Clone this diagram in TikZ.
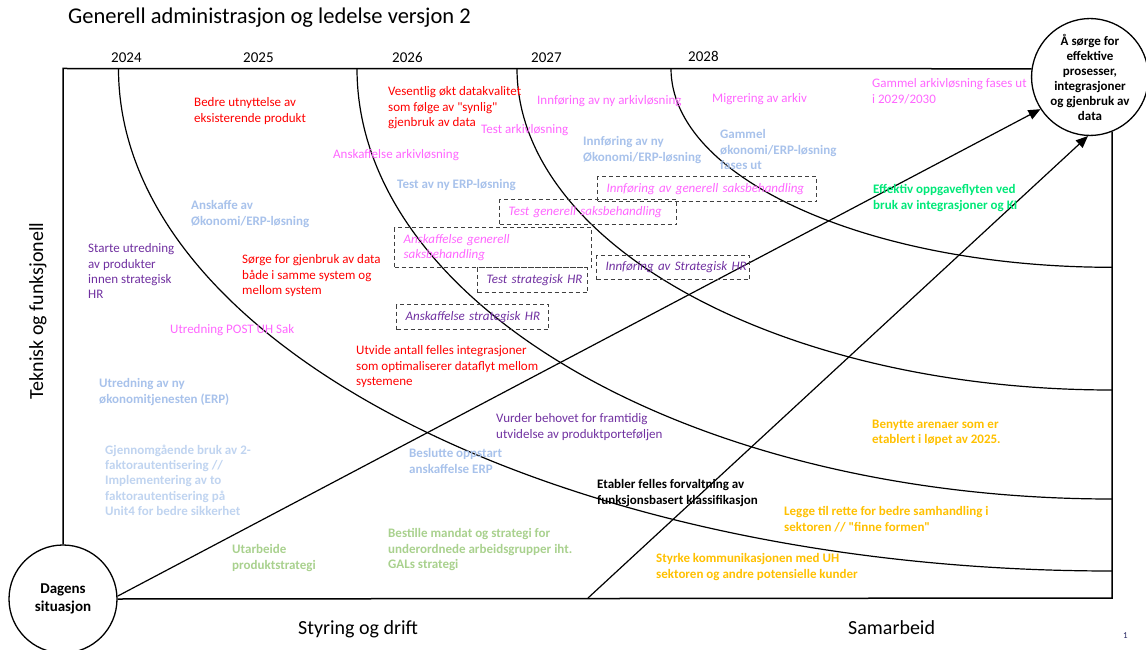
\documentclass[tikz,border=0pt]{standalone}
\usepackage{fontspec}
\setmainfont{Carlito}
\newfontfamily\qfont{Carlito}
\usetikzlibrary{arrows.meta}
\definecolor{cred}{RGB}{255,0,0}
\definecolor{cmag}{RGB}{255,102,255}
\definecolor{cblue}{RGB}{168,194,235}
\definecolor{cblue2}{RGB}{192,212,240}
\definecolor{cpurp}{RGB}{112,48,160}
\definecolor{cgreen}{RGB}{0,232,120}
\definecolor{clgreen}{RGB}{169,209,142}
\definecolor{corange}{RGB}{255,192,0}
\definecolor{cnavy}{RGB}{40,40,100}
\definecolor{cdash}{RGB}{64,64,64}
\newcommand{\sq}{{\qfont\symbol{34}}}
\begin{document}
\begin{tikzpicture}[x=1pt,y=-1pt,
  frame/.style={line width=1.5pt, black},
  arcline/.style={line width=1.2pt, black},
  arr/.style={line width=1.2pt, black, -{Triangle[length=12pt,width=10pt]}},
  tx/.style={anchor=north west, inner sep=0pt, yshift=-2.5pt, align=left, font=\fontsize{13}{15.3}\selectfont, execute at begin node=\strut},
  bx/.style={tx, font=\fontsize{13}{15.3}\selectfont\bfseries},
  dbox/.style={draw=cdash, dash pattern=on 4pt off 3pt, line width=1.1pt, anchor=north west, align=left, inner xsep=9pt, inner ysep=0pt, font=\fontsize{13}{15.3}\selectfont\itshape},
  yr/.style={anchor=base west, inner sep=0pt, font=\fontsize{15}{18}\selectfont},
  axl/.style={anchor=base west, inner sep=0pt, font=\fontsize{20}{24}\selectfont},
  ]
\path[use as bounding box] (0,0) rectangle (1146,650);

% circles
\node[circle, draw, line width=1.3pt, fill=white, minimum size=108pt, inner sep=0pt, align=center, font=\fontsize{15}{18}\selectfont\bfseries] (dagens) at (63,599) {Dagens\\situasjon};
\node[circle, draw, line width=1.3pt, fill=white, minimum size=116pt, inner sep=0pt, align=center, font=\fontsize{13}{15}\selectfont\bfseries] (goal) at (1090,77) {Å sørge for\\effektive\\prosesser,\\integrasjoner\\og gjenbruk av\\data};

% frame
\coordinate (tl) at (63,68.5);
\coordinate (br) at (1112,598);
\draw[frame] (dagens.north) -- (tl) -- (goal.172);
\draw[frame] (dagens.east) -- (br) -- (goal.292);

% arcs
\coordinate (a1s) at (118.5,68.5); \coordinate (a1e) at (1112,571);
\coordinate (a2s) at (357,68.5);   \coordinate (a2e) at (1112,499);
\coordinate (a3s) at (517,68.5);   \coordinate (a3e) at (1112,390);
\coordinate (a4s) at (671,68.5);   \coordinate (a4e) at (1112,267.3);
\draw[arcline] (a1s) .. controls +(0,277.5) and +(-548.7,0) .. (a1e);
\draw[arcline] (a2s) .. controls +(0,237.8) and +(-417,0) .. (a2e);
\draw[arcline] (a3s) .. controls +(0,177.6) and +(-328.6,0) .. (a3e);
\draw[arcline] (a4s) .. controls +(0,109.8) and +(-243.6,0) .. (a4e);

% arrows
\coordinate (s2) at (588,598);
\draw[arr] (dagens.3) -- (goal.213);
\draw[arr] (s2) -- (goal.268);

% title, years, axes
\node[anchor=base west, inner sep=0pt, font=\fontsize{22.5}{27}\selectfont] (title) at (68,24) {Generell administrasjon og ledelse versjon 2};
\node[yr] (y24) at (111,63) {2024};
\node[yr] (y25) at (243,63) {2025};
\node[yr] (y26) at (392,63) {2026};
\node[yr] (y27) at (531,63) {2027};
\node[yr] (y28) at (688,62) {2028};
\node[axl] (xl1) at (298,634) {Styring og drift};
\node[axl] (xl2) at (848,634) {Samarbeid};
\node[rotate=90, inner sep=0pt, font=\fontsize{20}{24}\selectfont] (ylab) at (38,311) {Teknisk og funksjonell};
\node[anchor=base west, inner sep=0pt, font=\fontsize{9}{11}\selectfont, text=cnavy] (pg) at (1123,638) {1};

% texts
\node[tx, text=cred] (bedre) at (194,95) {Bedre utnyttelse av\\eksisterende produkt};
\node[tx, text=cred] (vesent) at (388,84) {Vesentlig økt datakvalitet\\som følge av \sq synlig\sq\\gjenbruk av data};
\node[tx, text=cmag] (innfark) at (537,91) {Innføring av ny arkivløsning};
\node[tx, text=cmag] (testark) at (481,120) {Test arkivløsning};
\node[tx, text=cmag] (migr) at (712,89) {Migrering av arkiv};
\node[tx, text=cmag] (gamark) at (872,76) {Gammel arkivløsning fases ut\\i 2029/2030};
\node[tx, text=cmag] (anskark) at (333,145) {Anskaffelse arkivløsning};
\node[bx, text=cblue] (innferp) at (583,134) {Innføring av ny\\Økonomi/ERP-løsning};
\node[bx, text=cblue] (gamerp) at (720,127) {Gammel\\økonomi/ERP-løsning\\fases ut};
\node[bx, text=cblue] (testerp) at (397,175) {Test av ny ERP-løsning};
\node[bx, text=cblue] (anskerp) at (191,198) {Anskaffe av\\Økonomi/ERP-løsning};
\node[bx, text=cgreen] (effekt) at (873,182) {Effektiv oppgaveflyten ved\\bruk av integrasjoner og KI};
\node[tx, text=cpurp] (starte) at (88,241) {Starte utredning\\av produkter\\innen strategisk\\HR};
\node[tx, text=cred] (sorge) at (242,252) {Sørge for gjenbruk av data\\både i samme system og\\mellom system};
\node[tx, text=cmag] (post) at (170,320) {Utredning POST UH Sak};
\node[tx, text=cred] (utvide) at (356,343) {Utvide antall felles integrasjoner\\som optimaliserer dataflyt mellom\\systemene};
\node[bx, text=cblue] (utrerp) at (99,376) {Utredning av ny\\økonomitjenesten (ERP)};
\node[tx, text=cpurp] (vurder) at (496,411) {Vurder behovet for framtidig\\utvidelse av produktporteføljen};
\node[bx, text=corange] (benytte) at (872,417) {Benytte arenaer som er\\etablert i løpet av 2025.};
\node[bx, text=cblue2] (gjennom) at (105,442) {Gjennomgående bruk av 2-\\faktorautentisering //\\Implementering av to\\faktorautentisering på\\Unit4 for bedre sikkerhet};
\node[bx, text=cblue] (beslutte) at (409,446) {Beslutte oppstart\\anskaffelse ERP};
\node[bx, text=black] (etabler) at (597,477) {Etabler felles forvaltning av\\funksjonsbasert klassifikasjon};
\node[bx, text=corange] (legge) at (784,504) {Legge til rette for bedre samhandling i\\sektoren // \sq finne formen\sq};
\node[bx, text=clgreen] (utarb) at (232,542) {Utarbeide\\produktstrategi};
\node[bx, text=clgreen] (bestille) at (388,526) {Bestille mandat og strategi for\\underordnede arbeidsgrupper iht.\\GALs strategi};
\node[bx, text=corange] (styrke) at (656,551) {Styrke kommunikasjonen med UH\\sektoren og andre potensielle kunder};

% dashed boxes
\node[dbox, text=cmag, text width=201pt, minimum height=25pt] (b1) at (597,176) {\mbox{Innføring av generell saksbehandling}};
\node[dbox, text=cmag, text width=159pt, minimum height=25pt] (b2) at (499,199) {\mbox{Test generell saksbehandling}};
\node[dbox, text=cmag, text width=179pt, minimum height=40pt] (b3) at (394,227) {Anskaffelse generell\\saksbehandling};
\node[dbox, text=cpurp, text width=92pt, minimum height=25pt] (b4) at (477,267) {\mbox{Test strategisk HR}};
\node[dbox, text=cpurp, text width=135pt, minimum height=24pt] (b5) at (596,255) {\mbox{Innføring av Strategisk HR}};
\node[dbox, text=cpurp, text width=134pt, minimum height=25pt] (b6) at (396,304) {\mbox{Anskaffelse strategisk HR}};
\end{tikzpicture}
\end{document}
